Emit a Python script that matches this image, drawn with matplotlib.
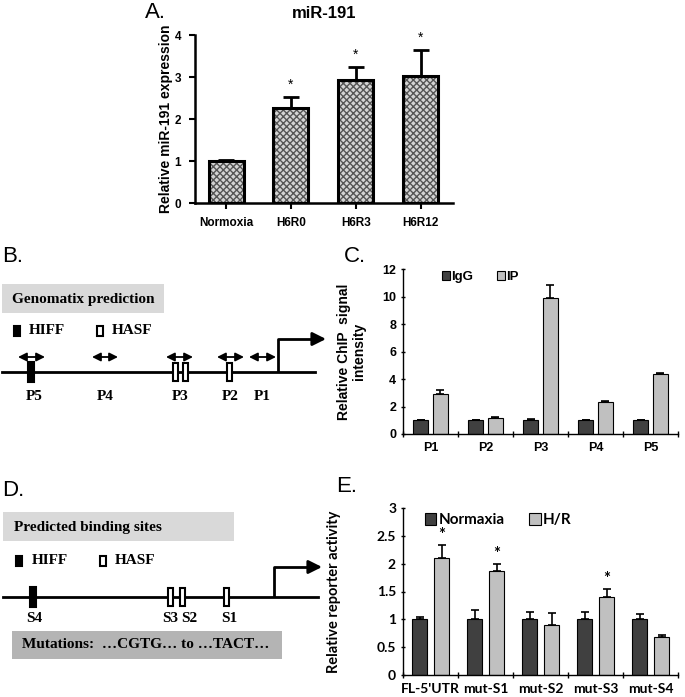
import numpy as np
import matplotlib.pyplot as plt
from matplotlib.patches import Rectangle, FancyArrowPatch

# ---- data ----
a_groups = ['Normoxia', 'H6R0', 'H6R3', 'H6R12']
a_vals = [1.0, 2.27, 2.92, 3.02]
a_err = [0.03, 0.26, 0.32, 0.62]
a_sig = [False, True, True, True]

c_groups = ['P1', 'P2', 'P3', 'P4', 'P5']
c_igg = [1.0, 1.0, 1.0, 1.0, 1.0]
c_igg_err = [0.03, 0.02, 0.1, 0.02, 0.02]
c_ip = [2.9, 1.15, 9.9, 2.3, 4.35]
c_ip_err = [0.32, 0.06, 0.92, 0.1, 0.07]

e_groups = ["FL-5'UTR", 'mut-S1', 'mut-S2', 'mut-S3', 'mut-S4']
e_norm = [1.0, 1.0, 1.0, 1.0, 1.0]
e_norm_err = [0.05, 0.17, 0.14, 0.13, 0.1]
e_hr = [2.11, 1.86, 0.9, 1.4, 0.68]
e_hr_err = [0.22, 0.13, 0.22, 0.14, 0.04]
e_sig = [True, True, False, True, False]

# promoter schematic (B): arrows for amplicons, binding sites
b_amplicons = {'P5': (18, 45), 'P4': (92, 118), 'P3': (166, 193), 'P2': (217, 244), 'P1': (249, 276)}
b_label_x = {'P5': 34, 'P4': 105, 'P3': 180, 'P2': 230, 'P1': 262}
b_hiff = [31]
b_hasf = [176, 186, 230]
# binding sites (D)
d_hiff = [33]
d_hasf = [171, 183, 227]
d_labels = {'S4': 34, 'S3': 170, 'S2': 189, 'S1': 229}

W, H = 685, 697
fig = plt.figure(figsize=(W / 100, H / 100), dpi=100)


def px_axes(left, top, right, bottom):
    return fig.add_axes([left / W, 1 - bottom / H, (right - left) / W, (bottom - top) / H])


sans = 'Liberation Sans'
serif = 'Liberation Serif'

# ---------------- panel A ----------------
ax = px_axes(195, 35, 453, 203)
x = np.arange(len(a_groups))
ax.bar(x, a_vals, 0.54, color='#d4d4d4', hatch='xxxxx', edgecolor='#555555', linewidth=0, zorder=2)
ax.bar(x, a_vals, 0.54, fill=False, edgecolor='black', linewidth=2.2, zorder=3)
ax.errorbar(x, a_vals, yerr=[np.zeros(len(a_err)), a_err], fmt='none', ecolor='black',
            elinewidth=2, capsize=6, capthick=2, zorder=1)
for xi, v, e, s in zip(x, a_vals, a_err, a_sig):
    if s:
        ax.text(xi, v + e + 0.12, '*', ha='center', va='bottom', fontsize=10, family=sans)
ax.set_xlim(-0.48, 3.5)
ax.set_ylim(0, 4)
ax.set_yticks([0, 1, 2, 3, 4])
ax.set_xticks(x)
ax.set_xticklabels(a_groups)
for s in ['top', 'right']:
    ax.spines[s].set_visible(False)
for s in ['left', 'bottom']:
    ax.spines[s].set_linewidth(1.8)
ax.tick_params(width=1.5, length=4, pad=6)
for lab in ax.get_xticklabels() + ax.get_yticklabels():
    lab.set_fontweight('bold')
    lab.set_family(sans)
    lab.set_fontsize(8.5)
ax.set_ylabel('Relative miR-191 expression', fontsize=10, fontweight='bold', family=sans)
ax.yaxis.set_label_coords(-0.085, 0.5)
ax.set_title('miR-191', fontsize=12, fontweight='bold', family=sans, pad=12)


def grouped(ax, groups, v1, e1, v2, e2, off, w, ylim, yticks, labels, lfont, fsize):
    x = np.arange(len(groups))
    ax.bar(x - off, v1, w, color='#404040', edgecolor='black', linewidth=0.8, zorder=2, label=labels[0])
    ax.bar(x + off, v2, w, color='#c0c0c0', edgecolor='black', linewidth=0.8, zorder=2, label=labels[1])
    ax.errorbar(x - off, v1, yerr=[np.zeros(len(e1)), e1], fmt='none', ecolor='black',
                elinewidth=1.2, capsize=3, capthick=1.2, zorder=1)
    ax.errorbar(x + off, v2, yerr=[np.zeros(len(e2)), e2], fmt='none', ecolor='black',
                elinewidth=1.2, capsize=3, capthick=1.2, zorder=1)
    ax.set_xlim(-0.5, len(groups) - 0.5)
    ax.set_ylim(*ylim)
    ax.set_yticks(yticks)
    ax.set_xticks(x)
    ax.set_xticklabels(groups)
    ax.set_xticks(np.arange(len(groups) + 1) - 0.5, minor=True)
    ax.tick_params(axis='x', which='major', length=0, pad=6)
    ax.tick_params(axis='x', which='minor', length=4, width=1, direction='inout')
    ax.tick_params(axis='y', length=3, width=1, direction='inout')
    for s in ['top', 'right']:
        ax.spines[s].set_visible(False)
    for s in ['left', 'bottom']:
        ax.spines[s].set_linewidth(1)
    for lab in ax.get_xticklabels() + ax.get_yticklabels():
        lab.set_fontweight('bold')
        lab.set_family(lfont)
        lab.set_fontsize(fsize)
    return x


# ---------------- panel C ----------------
ax = px_axes(403, 269, 678, 434)
grouped(ax, c_groups, c_igg, c_igg_err, c_ip, c_ip_err, 0.18, 0.27, (0, 12),
        [0, 2, 4, 6, 8, 10, 12], ['IgG', 'IP'], sans, 9)
ax.legend(loc='upper left', bbox_to_anchor=(0.1, 1.06), ncol=2, frameon=False, handlelength=0.6,
          handleheight=0.6, handletextpad=0.1, columnspacing=1.8,
          prop={'family': sans, 'weight': 'bold', 'size': 9.5})
ax.set_ylabel('Relative ChIP  signal\nintensity', fontsize=10, fontweight='bold', family=sans,
              linespacing=1.1)
ax.yaxis.set_label_coords(-0.135, 0.5)

# ---------------- panel E ----------------
efont = 'Lato'
ax = px_axes(403, 508, 678, 675)
xe = grouped(ax, e_groups, e_norm, e_norm_err, e_hr, e_hr_err, 0.2, 0.29, (0, 3),
             [0, 0.5, 1, 1.5, 2, 2.5, 3], ['Normaxia', 'H/R'], efont, 10)
ax.set_yticklabels(['0', '0.5', '1', '1.5', '2', '2.5', '3'], fontweight='bold', family=efont, fontsize=10)
for xi, v, e, s in zip(xe, e_hr, e_hr_err, e_sig):
    if s:
        ax.text(xi + 0.2, v + e + 0.04, '*', ha='center', va='bottom', fontsize=12,
                fontweight='bold', family=efont)
ax.legend(loc='upper left', bbox_to_anchor=(0.03, 1.05), ncol=2, frameon=False, handlelength=0.75,
          handleheight=0.75, handletextpad=0.15, columnspacing=1.6,
          prop={'family': efont, 'weight': 'bold', 'size': 11})
ax.set_ylabel('Relative reporter activity', fontsize=10.5, family=efont, fontweight='bold')
ax.yaxis.set_label_coords(-0.225, 0.5)

# ---------------- schematics B and D ----------------
ov = fig.add_axes([0, 0, 1, 1])
ov.set_xlim(0, W)
ov.set_ylim(H, 0)
ov.axis('off')
ov.patch.set_alpha(0)

tfont = dict(family=serif, fontweight='bold', fontsize=11)


def site(xc, yc, filled, w=6, h=20):
    ov.add_patch(Rectangle((xc - w / 2, yc - h / 2), w, h, facecolor='black' if filled else 'white',
                           edgecolor='black', linewidth=1.5, zorder=4))


def promoter_arrow(xs, y0, y1, x1):
    ov.plot([xs, xs, x1 - 8], [y0, y1, y1], color='black', lw=2, solid_capstyle='butt')
    ov.add_patch(FancyArrowPatch((x1 - 10, y1), (x1, y1), arrowstyle='-|>,head_length=8,head_width=4',
                                 color='black', lw=2, mutation_scale=1, shrinkA=0, shrinkB=0))


# B
ov.add_patch(Rectangle((2, 284), 162, 29, facecolor='#d9d9d9', edgecolor='none'))
ov.text(12, 299, 'Genomatix prediction', va='center', ha='left', **tfont)
site(17, 331, True, w=6, h=10)
ov.text(29, 331, 'HIFF', va='center', ha='left', **tfont)
site(100, 331, False, w=6, h=10)
ov.text(112, 331, 'HASF', va='center', ha='left', **tfont)
ov.plot([2, 315], [372, 372], color='black', lw=2)
promoter_arrow(278, 372, 339, 326)
for name, (x0, x1) in b_amplicons.items():
    ov.add_patch(FancyArrowPatch((x0, 357), (x1, 357), arrowstyle='<|-|>,head_length=5,head_width=2.5',
                                 color='black', lw=1.3, mutation_scale=1, shrinkA=0, shrinkB=0))
    ov.text(b_label_x[name], 397, name, ha='center', va='center', **tfont)
for xs in b_hiff:
    site(xs, 372, True)
for xs in b_hasf:
    site(xs, 372, False, w=5, h=18)

# D
ov.add_patch(Rectangle((3, 512), 231, 29, facecolor='#d9d9d9', edgecolor='none'))
ov.text(14, 527, 'Predicted binding sites', va='center', ha='left', **tfont)
site(19, 561, True, w=6, h=10)
ov.text(32, 561, 'HIFF', va='center', ha='left', **tfont)
site(103, 561, False, w=6, h=10)
ov.text(115, 561, 'HASF', va='center', ha='left', **tfont)
ov.plot([3, 318], [597, 597], color='black', lw=2)
promoter_arrow(274, 597, 567, 322)
for xs in d_hiff:
    site(xs, 597, True)
for xs in d_hasf:
    site(xs, 597, False, w=5, h=18)
for name, xs in d_labels.items():
    ov.text(xs, 618, name, ha='center', va='center', **tfont)
ov.add_patch(Rectangle((12, 631), 270, 28, facecolor='#b4b4b4', edgecolor='none'))
ov.text(22, 645, 'Mutations:  \u2026CGTG\u2026 to \u2026TACT\u2026', va='center', ha='left', **tfont)

# panel letters
for lab, lx, ly in [('A.', 145, 13), ('B.', 2, 257), ('C.', 344, 257), ('D.', 2, 490), ('E.', 336, 487)]:
    ov.text(lx, ly, lab, ha='left', va='center', fontsize=16, family=sans)

fig.savefig('out.png', dpi=100)
